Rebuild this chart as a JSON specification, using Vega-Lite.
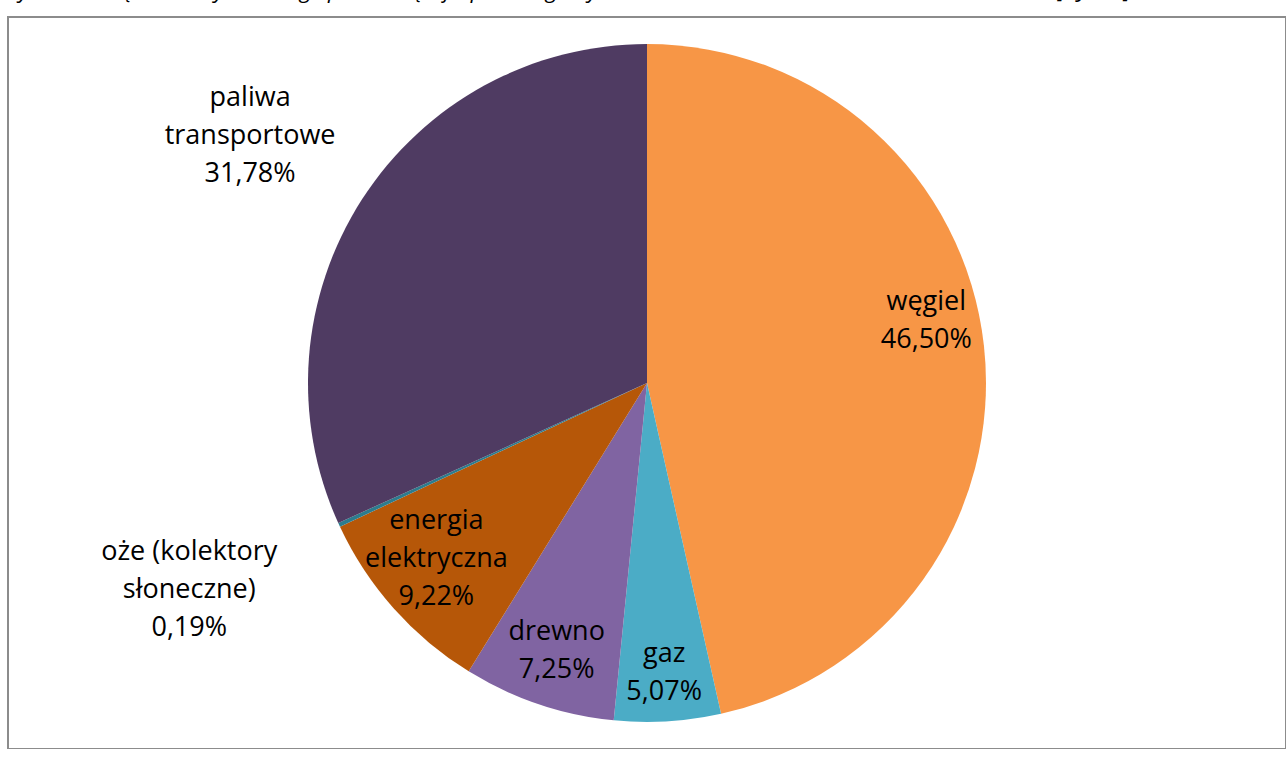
{
  "$schema": "https://vega.github.io/schema/vega-lite/v6.json",
  "autosize": {"type": "none"},
  "width": 1278,
  "height": 732,
  "padding": {"left": 8, "top": 17, "right": 0, "bottom": 0},
  "background": "white",
  "view": {"stroke": "#8c8c8c", "strokeWidth": 2},
  "title": {
    "text": "Wykres 11. Łączne zużycie energii pochodzącej z poszczególnych nośników w Gminie Strzałkowo w roku 2013 [GJ/rok]",
    "anchor": "start",
    "frame": "group",
    "dx": -8,
    "offset": -8,
    "baseline": "bottom",
    "fontSize": 22,
    "fontStyle": "italic",
    "fontWeight": "normal",
    "font": "Open Sans",
    "color": "#000000"
  },
  "config": {
    "text": {"font": "Open Sans", "fontSize": 27, "lineBreak": "\n", "lineHeight": 38}
  },
  "data": {
    "values": [
      {"order": 1, "name": "węgiel", "share": 46.50, "color": "#F79646"},
      {"order": 2, "name": "gaz", "share": 5.07, "color": "#4BACC6"},
      {"order": 3, "name": "drewno", "share": 7.25, "color": "#8064A2"},
      {"order": 4, "name": "energia\nelektryczna", "share": 9.22, "color": "#B65708"},
      {"order": 5, "name": "oże (kolektory\nsłoneczne)", "share": 0.19, "color": "#2C7C8E"},
      {"order": 6, "name": "paliwa\ntransportowe", "share": 31.78, "color": "#4F3B62"}
    ]
  },
  "transform": [
    {"stack": "share", "groupby": [], "sort": [{"field": "order", "order": "ascending"}], "as": ["s0", "s1"]},
    {"calculate": "(datum.s0 + datum.s1) / 2", "as": "mid"},
    {"calculate": "datum.name + '\\n' + replace(format(datum.share, '.2f'), '.', ',') + '%'", "as": "label"}
  ],
  "layer": [
    {
      "mark": {"type": "arc", "outerRadius": 339},
      "encoding": {
        "theta": {"field": "s0", "type": "quantitative", "scale": {"domain": [0, 100.01]}},
        "theta2": {"field": "s1"},
        "color": {"field": "color", "type": "nominal", "scale": null, "legend": null}
      }
    },
    {
      "transform": [{"filter": "datum.order == 1"}],
      "mark": {"type": "text", "radius": 281, "dy": -50, "align": "center", "baseline": "middle"},
      "encoding": {
        "theta": {"field": "mid", "type": "quantitative", "scale": {"domain": [0, 100.01]}},
        "text": {"field": "label"}
      }
    },
    {
      "transform": [{"filter": "datum.order == 2"}],
      "mark": {"type": "text", "radius": 282, "dy": -10, "align": "center", "baseline": "middle"},
      "encoding": {
        "theta": {"field": "mid", "type": "quantitative", "scale": {"domain": [0, 100.01]}},
        "text": {"field": "label"}
      }
    },
    {
      "transform": [{"filter": "datum.order == 3"}],
      "mark": {"type": "text", "radius": 282, "dy": -18, "align": "center", "baseline": "middle"},
      "encoding": {
        "theta": {"field": "mid", "type": "quantitative", "scale": {"domain": [0, 100.01]}},
        "text": {"field": "label"}
      }
    },
    {
      "transform": [{"filter": "datum.order == 4"}],
      "mark": {"type": "text", "radius": 282, "dy": -50, "align": "center", "baseline": "middle"},
      "encoding": {
        "theta": {"field": "mid", "type": "quantitative", "scale": {"domain": [0, 100.01]}},
        "text": {"field": "label"}
      }
    },
    {
      "transform": [{"filter": "datum.order == 5"}],
      "mark": {"type": "text", "radius": 504, "dy": -42, "align": "center", "baseline": "middle"},
      "encoding": {
        "theta": {"field": "mid", "type": "quantitative", "scale": {"domain": [0, 100.01]}},
        "text": {"field": "label"}
      }
    },
    {
      "transform": [{"filter": "datum.order == 6"}],
      "mark": {"type": "text", "radius": 471, "align": "center", "baseline": "middle", "dy": -30, "dx": -1},
      "encoding": {
        "theta": {"field": "mid", "type": "quantitative", "scale": {"domain": [0, 100.01]}},
        "text": {"field": "label"}
      }
    }
  ]
}
